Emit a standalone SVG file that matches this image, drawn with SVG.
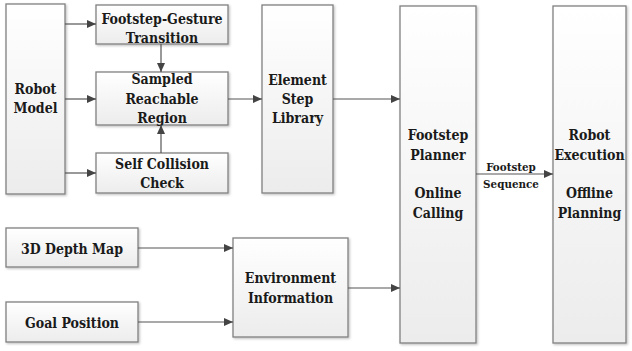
<svg xmlns="http://www.w3.org/2000/svg" width="632" height="351" viewBox="0 0 632 351">
<defs>
<linearGradient id="g" x1="0" y1="0" x2="0" y2="1">
<stop offset="0" stop-color="#ffffff"/>
<stop offset="1" stop-color="#ececec"/>
</linearGradient>
<filter id="sh" x="-5%" y="-5%" width="115%" height="115%">
<feDropShadow dx="1.2" dy="1.2" stdDeviation="0.8" flood-color="#000" flood-opacity="0.25"/>
</filter>
<marker id="ah" viewBox="0 0 10 10" refX="10" refY="5" markerWidth="9" markerHeight="8" markerUnits="userSpaceOnUse" orient="auto" preserveAspectRatio="none">
<path d="M0,0 L10,5 L0,10 z" fill="#444"/>
</marker>
</defs>
<style>
.b{fill:url(#g);stroke:#808080;stroke-width:1.3;filter:url(#sh)}
text{font-family:"DejaVu Serif Condensed", "DejaVu Serif", "Liberation Serif", serif;font-stretch:condensed;font-weight:bold;font-size:14px;fill:#1a1a1a;text-anchor:middle}
.s{font-size:11.5px}
.c line{stroke:#555;stroke-width:1.2;marker-end:url(#ah)}
</style>
<rect width="632" height="351" fill="#fff"/>
<g id="robot-model"><rect class="b" x="6" y="4" width="59" height="190"/><text x="35.5" y="94">Robot</text><text x="35.5" y="113">Model</text></g>
<g id="footstep-gesture"><rect class="b" x="96" y="5" width="132" height="39"/><text x="162" y="24">Footstep-Gesture</text><text x="162" y="43">Transition</text></g>
<g id="sampled-region"><rect class="b" x="96" y="72" width="132" height="53"/><text x="162" y="84">Sampled</text><text x="162" y="104">Reachable</text><text x="162" y="123">Region</text></g>
<g id="self-collision"><rect class="b" x="96" y="153" width="132" height="40"/><text x="162" y="169">Self Collision</text><text x="162" y="188">Check</text></g>
<g id="element-step"><rect class="b" x="262" y="5" width="71" height="188"/><text x="297.5" y="85">Element</text><text x="297.5" y="104">Step</text><text x="297.5" y="123">Library</text></g>
<g id="footstep-planner"><rect class="b" x="400" y="6" width="76" height="337"/><text x="438" y="140">Footstep</text><text x="438" y="160">Planner</text><text x="438" y="198">Online</text><text x="438" y="218">Calling</text></g>
<g id="robot-execution"><rect class="b" x="553" y="6" width="73" height="337"/><text x="589.5" y="140">Robot</text><text x="589.5" y="160">Execution</text><text x="589.5" y="198">Offline</text><text x="589.5" y="218">Planning</text></g>
<g id="depth-map"><rect class="b" x="6" y="228" width="132" height="39"/><text x="72" y="253.5">3D Depth Map</text></g>
<g id="goal-position"><rect class="b" x="6" y="302" width="132" height="40"/><text x="72" y="327.5">Goal Position</text></g>
<g id="environment"><rect class="b" x="233" y="238" width="115" height="99"/><text x="290.5" y="282.5">Environment</text><text x="290.5" y="302.5">Information</text></g>
<g class="c" id="connectors">
<line x1="65" y1="24" x2="96" y2="24"/>
<line x1="65" y1="99" x2="96" y2="99"/>
<line x1="65" y1="173" x2="96" y2="173"/>
<line x1="161" y1="44" x2="161" y2="72"/>
<line x1="161" y1="153" x2="161" y2="125"/>
<line x1="228" y1="99" x2="262" y2="99"/>
<line x1="333" y1="99" x2="400" y2="99"/>
<line x1="476" y1="174" x2="553" y2="174"/>
<line x1="138" y1="248" x2="233" y2="248"/>
<line x1="138" y1="322" x2="233" y2="322"/>
<line x1="348" y1="288" x2="400" y2="288"/>
<text class="s" x="511" y="171">Footstep</text>
<text class="s" x="511" y="188">Sequence</text>
</g>
</svg>
